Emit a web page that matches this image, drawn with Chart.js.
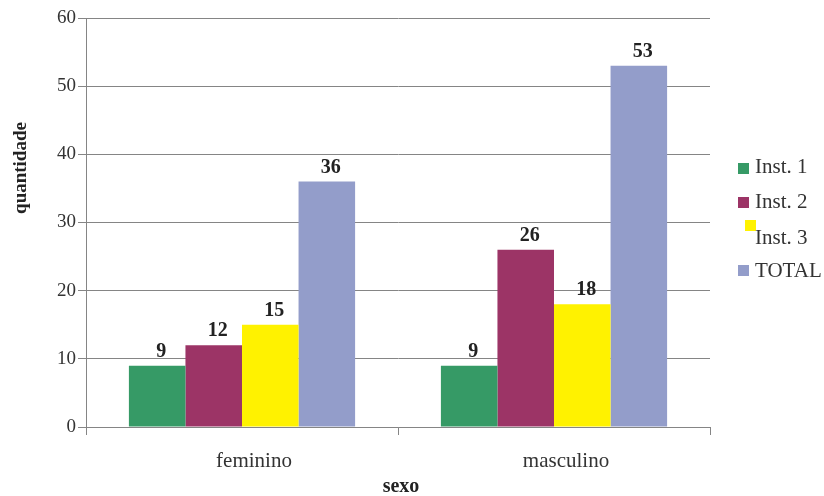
<!DOCTYPE html>
<html>
<head>
<meta charset="utf-8">
<script src="https://cdn.jsdelivr.net/npm/chart.js@4.4.1/dist/chart.umd.min.js"></script>
<style>
  html, body { margin: 0; padding: 0; background: #fff; }
  #wrap { width: 824px; height: 496px; position: relative; }
</style>
</head>
<body>
<div id="wrap"><canvas id="c" width="824" height="496"></canvas></div>
<script>
// Categories and series
const categories = ['feminino', 'masculino'];
const seriesNames = ['Inst. 1', 'Inst. 2', 'Inst. 3', 'TOTAL'];
const inst1 = [9, 9];
const inst2 = [12, 26];
const inst3 = [15, 18];
const total = [36, 53];
const yTicks = [0, 10, 20, 30, 40, 50, 60];

const colors = ['#369a66', '#9c3466', '#fff200', '#939dca'];
const serif = "'Liberation Serif', 'Times New Roman', serif";
const textColor = '#333333';
const gridColor = '#858585';

const seriesValues = [inst1, inst2, inst3, total];
const datasets = seriesValues.map((vals, i) => ({
  label: seriesNames[i],
  data: vals,
  backgroundColor: colors[i],
  borderWidth: 0,
  categoryPercentage: 0.725,
  barPercentage: 1.0
}));

// Value labels above bars, axis titles and legend
const decorations = {
  id: 'decorations',
  afterDatasetsDraw(chart) {
    const ctx = chart.ctx;
    ctx.save();
    ctx.fillStyle = '#222';
    ctx.font = "bold 20px " + serif;
    ctx.textAlign = 'center';
    ctx.textBaseline = 'alphabetic';
    chart.data.datasets.forEach((ds, di) => {
      const meta = chart.getDatasetMeta(di);
      meta.data.forEach((bar, i) => {
        ctx.fillText(String(ds.data[i]), bar.x + 4, bar.y - 9);
      });
    });

    // axis titles
    ctx.font = "bold 20px " + serif;
    ctx.fillStyle = '#222';
    ctx.fillText('sexo', 401, 492);
    ctx.save();
    ctx.translate(26, 168);
    ctx.rotate(-Math.PI / 2);
    ctx.font = "bold 19px " + serif;
    ctx.fillText('quantidade', 0, 0);
    ctx.restore();

    // legend
    ctx.font = "21px " + serif;
    ctx.textAlign = 'left';
    const rows = [
      { base: 173, sx: 738, sy: 163 },
      { base: 208, sx: 738, sy: 197 },
      { base: 244, sx: 745, sy: 220 },
      { base: 277, sx: 738, sy: 265 }
    ];
    chart.data.datasets.forEach((ds, di) => {
      const r = rows[di];
      ctx.fillStyle = ds.backgroundColor;
      ctx.fillRect(r.sx, r.sy, 11, 11);
      ctx.fillStyle = textColor;
      ctx.fillText(ds.label, 755, r.base);
    });
    ctx.restore();
  }
};

new Chart(document.getElementById('c'), {
  type: 'bar',
  data: { labels: categories, datasets },
  options: {
    responsive: false,
    animation: false,
    layout: { padding: { left: 0, right: 114, top: 18, bottom: 0 } },
    plugins: {
      legend: { display: false },
      tooltip: { enabled: false }
    },
    scales: {
      x: {
        grid: {
          offset: true,
          drawOnChartArea: false,
          drawTicks: true,
          tickLength: 8,
          color: gridColor
        },
        border: { color: gridColor, width: 1 },
        ticks: {
          color: textColor,
          font: { family: serif, size: 21 },
          padding: 14,
          labelOffset: 12
        },
        afterFit(scale) { scale.height = 69; }
      },
      y: {
        min: 0,
        max: 60,
        afterBuildTicks(scale) { scale.ticks = yTicks.map(v => ({ value: v })); },
        grid: {
          color: gridColor,
          tickLength: 8,
          lineWidth: 1
        },
        border: { color: gridColor, width: 1 },
        ticks: {
          color: textColor,
          font: { family: serif, size: 19 },
          padding: 2
        },
        afterFit(scale) { scale.width = 86; }
      }
    }
  },
  plugins: [decorations]
});
</script>
</body>
</html>
